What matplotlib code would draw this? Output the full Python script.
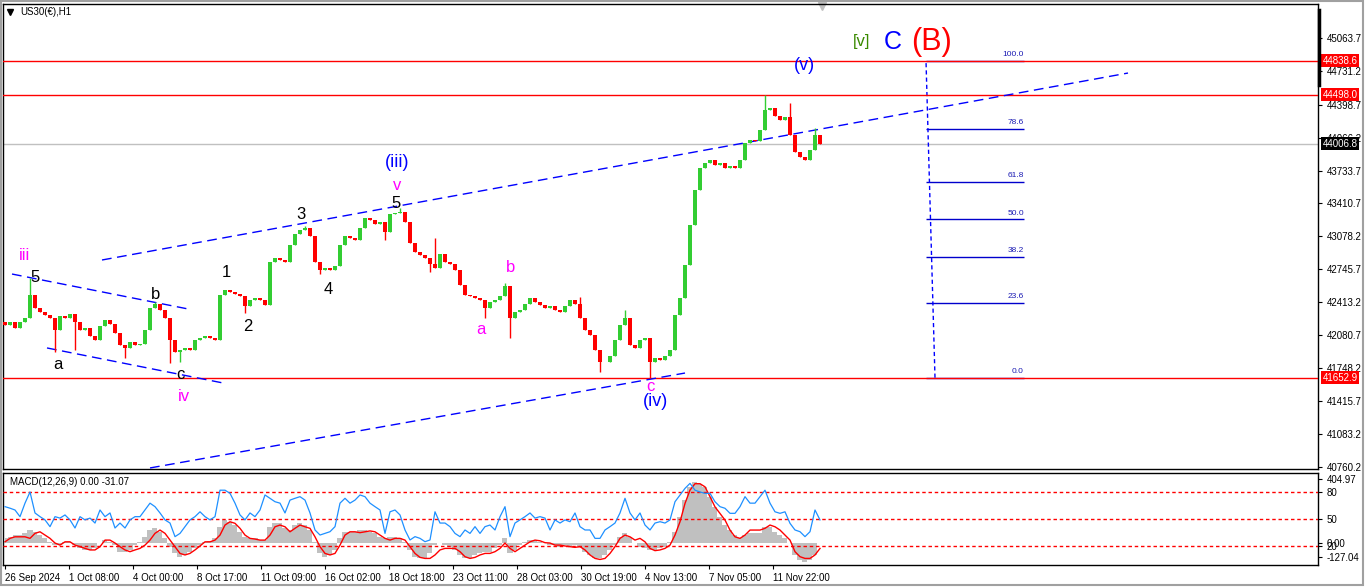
import numpy as np
import matplotlib.pyplot as plt
from matplotlib import transforms
from matplotlib.lines import Line2D
from matplotlib.patches import Rectangle

plt.rcParams['font.family'] = ['Liberation Sans', 'DejaVu Sans']

# hourly closes, one value every 5 bars
closes = [42183, 42213, 42153, 42213, 42253, 42484, 42354, 42313, 42283, 42253,
          42132, 42273, 42253, 42293, 42213, 42132, 42153, 42072, 42032, 42173,
          42233, 42193, 42102, 41982, 41952, 42012, 41982, 41992, 42132, 42354,
          42394, 42334, 42253, 42032, 41911, 41932, 41952, 41932, 42032, 42052,
          42072, 42052, 42032, 42484, 42535, 42514, 42494, 42474, 42374, 42434,
          42454, 42434, 42384, 42816, 42856, 42836, 42816, 42987, 43097, 43137,
          43158, 43077, 42816, 42736, 42756, 42736, 42776, 42987, 43077, 43057,
          43037, 43158, 43258, 43238, 43198, 43218, 43117, 43298, 43308, 43318,
          43218, 43007, 42916, 42886, 42856, 42796, 42756, 42900, 42816, 42796,
          42736, 42585, 42484, 42474, 42454, 42434, 42354, 42414, 42434, 42474,
          42575, 42253, 42313, 42334, 42394, 42454, 42414, 42384, 42354, 42374,
          42334, 42313, 42374, 42434, 42394, 42253, 42132, 42082, 41932, 41811,
          41811, 41871, 42032, 42183, 42253, 41982, 41952, 42032, 42052, 41811,
          41851, 41831, 41871, 41932, 42283, 42454, 42786, 43188, 43540, 43761,
          43811, 43841, 43791, 43811, 43761, 43781, 43761, 43841, 44012, 44042,
          44032, 44142, 44343, 44364, 44283, 44243, 44273, 44092, 43921, 43871,
          43841, 43942, 44092, 44006.8]

# wick extremes: bar index and price
wick_bar = [25, 50, 72, 118, 150, 167, 173, 240, 300, 313, 380, 395, 427, 432,
            478, 499, 505, 573, 593, 619, 643, 761, 783, 812]
wick_price = [42655, 41911, 41932, 41851, 42414, 41801, 41811, 42303, 43178, 42695,
              43037, 43359, 42716, 43057, 42253, 42605, 42052, 42464, 41710, 42334,
              41652.9, 44498.0, 44414, 44163]

# oscillator (0-100), MACD histogram and signal, same 5-bar step
osc = [63.7, 62, 60, 52.6, 67.6, 80, 56.7, 52.6, 49, 41.5,
       52.6, 51, 54.5, 49, 40, 52.6, 49, 51, 45.5, 60,
       52.6, 56.7, 40, 45.5, 40, 49, 52.6, 52.6, 60, 67.6,
       63.7, 56.7, 49, 45.5, 30.4, 34, 41.5, 49, 52.6, 58,
       52.6, 49, 52.6, 82, 82, 78.5, 67.6, 54.5, 49, 56.7,
       52.6, 60, 76.7, 73, 69.2, 67.6, 56.7, 71, 73, 74.8,
       71, 56.7, 37.8, 32.2, 34, 35.9, 41.5, 67.6, 73, 67.6,
       71, 76.7, 74.8, 67.6, 63.7, 60, 34, 58, 60, 54.5,
       37.8, 26.7, 30.4, 28.5, 24.8, 26.7, 58, 45.5, 45.5, 41.5,
       34, 30.4, 37.8, 34, 41.5, 34, 41.5, 43.3, 37.8, 52.6,
       63.7, 30.4, 45.5, 49, 52.6, 56.7, 51, 52.6, 51, 37.8,
       49, 45.5, 49, 47, 56.7, 41.5, 37.8, 37.8, 28.5, 28.5,
       37.8, 41.5, 45.5, 56.7, 73, 56.7, 49, 56.7, 43.3, 37.8,
       45.5, 47, 45.5, 49, 69.2, 76.7, 84, 89.6, 82, 80,
       78.5, 78.5, 69.2, 63.7, 61.9, 56.3, 56.3, 63.7, 74.8, 67.6,
       67.6, 74.8, 82, 67.6, 58, 56.3, 58, 45.2, 37.8, 35.9,
       30.4, 35.9, 60, 49]

macd_hist = [27, 36, 46, 46, 56, 75, 65, 46, 27, 7,
             -12, -12, 7, 7, -12, -31, -40, -40, -31, 0,
             17, 7, -12, -50, -50, -40, -12, 7, 36, 75,
             85, 65, 27, -21, -60, -79, -69, -50, -31, -12,
             7, 13, 27, 94, 133, 123, 104, 65, 36, 27,
             27, 17, 17, 94, 114, 114, 85, 75, 104, 114,
             104, 75, 7, -60, -79, -69, -40, 27, 65, 65,
             65, 75, 75, 65, 56, 36, 27, 36, 36, 27,
             7, -40, -79, -89, -89, -60, -12, 0, -12, -21,
             -40, -69, -89, -89, -69, -60, -50, -50, -31, -12,
             27, -60, -40, -12, 7, 17, 17, 7, 0, -12,
             -12, -21, -12, -21, -12, -21, -50, -69, -89, -89,
             -69, -40, -12, 36, 56, 36, 0, -21, -31, -40,
             -40, -31, -21, 7, 65, 151, 248, 325, 353, 343,
             325, 268, 209, 151, 104, 75, 46, 27, 46, 56,
             56, 56, 94, 94, 65, 46, 27, -2, -69, -98,
             -108, -98, -69, 0]

macd_sig = [7, 27, 36, 36, 36, 27, 56, 65, 46, 27,
            0, -12, 7, 7, -12, -21, -31, -40, -40, -21,
            17, 17, 0, -21, -40, -50, -40, -31, -12, 17,
            56, 75, 56, 17, -21, -60, -69, -60, -40, -17,
            7, 7, 17, 46, 104, 123, 114, 85, 46, 27,
            23, 17, 17, 46, 94, 104, 94, 65, 85, 104,
            94, 85, 36, -21, -60, -69, -60, -12, 46, 65,
            65, 60, 65, 70, 65, 46, 27, 17, 27, 27,
            17, -21, -60, -83, -89, -89, -69, -40, -31, -31,
            -31, -50, -79, -89, -83, -69, -60, -60, -50, -31,
            0, -31, -50, -31, -12, 7, 17, 13, 2, 0,
            -12, -12, -17, -21, -25, -21, -40, -69, -89, -95,
            -89, -60, -21, 27, 46, 36, 17, 27, 7, -31,
            -44, -40, -31, -12, 46, 123, 229, 306, 343, 343,
            325, 268, 209, 171, 133, 75, 36, 27, 46, 75,
            75, 75, 85, 104, 94, 75, 46, 17, -50, -79,
            -89, -89, -69, -31.07]

x_labels = ['26 Sep 2024', '1 Oct 08:00', '4 Oct 00:00', '8 Oct 17:00', '11 Oct 09:00',
            '16 Oct 02:00', '18 Oct 18:00', '23 Oct 11:00', '28 Oct 03:00', '30 Oct 19:00',
            '4 Nov 13:00', '7 Nov 05:00', '11 Nov 22:00']
price_ticks = [45063.7, 44731.2, 44398.7, 44066.2, 43733.7, 43410.7, 43078.2,
               42745.7, 42413.2, 42080.7, 41748.2, 41415.7, 41083.2, 40760.2]
red_levels = [44838.6, 44498.0, 41652.9]
bid = 44006.8
fib_low, fib_high = 41652.9, 44838.6
fib_ratios = [0.0, 23.6, 38.2, 50.0, 61.8, 78.6, 100.0]

# trend lines (bar, price) pairs
channel_lines = [((97, 42836), (1123, 44715)),
                 ((145, 40746), (680, 41700)),
                 ((7, 42695), (183, 42344)),
                 ((42, 41952), (218, 41600))]

# wave labels: text, bar, price, colour, size
wave_labels = [('iii', 20, 42886, '#ff00ff', 12), ('5', 30, 42665, 'k', 12),
               ('a', 53, 41781, 'k', 12), ('b', 151, 42494, 'k', 12),
               ('c', 175, 41690, 'k', 12), ('iv', 179, 41469, '#ff00ff', 12),
               ('1', 221, 42715, 'k', 12), ('2', 243, 42163, 'k', 12),
               ('3', 296, 43298, 'k', 12), ('4', 323, 42535, 'k', 12),
               ('(iii)', 392, 43811, '#0000ff', 13), ('v', 392, 43580, '#ff00ff', 12),
               ('5', 391, 43399, 'k', 12), ('b', 506, 42756, '#ff00ff', 12),
               ('a', 476, 42133, '#ff00ff', 12), ('c', 645, 41560, '#ff00ff', 12),
               ('(iv)', 651, 41409, '#0000ff', 13), ('(v)', 799, 44786, '#0000ff', 13),
               ('[v]', 857, 45027, '#3a8a00', 12), ('C', 888, 45027, '#0000ff', 18),
               ('(B)', 927, 45027, '#ff0000', 22)]

W, H = 1366, 588
fig = plt.figure(figsize=(W / 100, H / 100), dpi=100)
fig.patch.set_facecolor('white')

ax = fig.add_axes([3 / W, 1 - 469 / H, 1315 / W, 465 / H])
ax2 = fig.add_axes([3 / W, 1 - 565 / H, 1315 / W, 92 / H])

pos = np.arange(len(closes)) * 5
c = np.array(closes, dtype=float)
o = np.r_[42213, c[:-1]]
hi = np.maximum(o, c)
lo = np.minimum(o, c)
for b, p in zip(wick_bar, wick_price):
    k = int(round(b / 5))
    hi[k] = max(hi[k], p)
    lo[k] = min(lo[k], p)
cols = np.where(c >= o, '#32cd32', '#ff0000')

# fib retracement
fib_prices = [fib_low + r / 100 * (fib_high - fib_low) for r in fib_ratios]
ax.hlines(fib_prices, 921, 1019, color='#0000cc', lw=1, zorder=2)
for r, p in zip(fib_ratios, fib_prices):
    ax.text(1019, p + 25, f'{r:.1f}', ha='right', va='bottom', fontsize=6,
            color='#1c1cb4')
ax.plot([930, 921], [fib_low, fib_high], color='#0000ff', lw=1,
        ls=(0, (3, 2.2)), zorder=2)

for lvl in red_levels:
    ax.axhline(lvl, color='#ff0000', lw=1, zorder=3)
ax.axhline(bid, color='#c0c0c0', lw=1, zorder=1)

for (x0, y0), (x1, y1) in channel_lines:
    ax.plot([x0, x1], [y0, y1], color='#0000ff', lw=1, ls=(0, (7, 4)), zorder=4)

ax.vlines(pos, lo, hi, colors=cols, lw=1, zorder=5)
ax.bar(pos, c - o, bottom=o, width=4.2, color=cols, linewidth=0, zorder=5)

for t, bx, py, col, fs in wave_labels:
    ax.text(bx, py, t, ha='center', va='center', color=col, fontsize=fs, zorder=6)

ax.plot(817, 45385, marker='v', color='#c0c0c0', ms=6, clip_on=False)

ax.set_xlim(-2, 1313)
ax.set_ylim(40735.5, 45408.8)
ax.set_xticks([])
ax.yaxis.tick_right()
ax.set_yticks(price_ticks)
ax.set_yticklabels([f'{v:.1f}' for v in price_ticks])
ax.tick_params(axis='y', direction='out', length=3, pad=3, labelsize=7)
for s in ax.spines.values():
    s.set_color('k')
    s.set_linewidth(1)

tr = transforms.blended_transform_factory(ax.transAxes, ax.transData)
for lvl in red_levels:
    ax.text(1.0035, lvl, f'{lvl:.1f}', transform=tr, ha='left', va='center',
            fontsize=7, color='white', zorder=10,
            bbox=dict(boxstyle='square,pad=0.15', fc='#ff0000', ec='none'))
ax.text(1.0035, bid, f'{bid:.1f}', transform=tr, ha='left', va='center',
        fontsize=7, color='white', zorder=10,
        bbox=dict(boxstyle='square,pad=0.15', fc='black', ec='none'))

# MACD panel
ax2.fill_between(pos, 0, macd_hist, color='#c0c0c0', linewidth=0, step='mid', zorder=1)
ax2.plot(pos, macd_sig, color='#ff0000', lw=1, zorder=2)
ax2.set_xlim(-2, 1313)
ax2.set_ylim(-127.04, 404.97)
ax3 = ax2.twinx()
ax3.set_ylim(-1.1, 101.1)
for lv in [20, 50, 80]:
    ax3.axhline(lv, color='#ff0000', lw=1, ls=(0, (2.5, 2)))
ax3.plot(pos, osc, color='#1e90ff', lw=0.9)
ax3.set_yticks([20, 50, 80])
ax3.set_yticklabels(['20', '50', '80'])
ax3.tick_params(axis='y', direction='out', length=3, pad=3, labelsize=7)
for s in ax3.spines.values():
    s.set_visible(False)

ax2.yaxis.tick_right()
ax2.set_yticks([370, 0, -81])
ax2.set_yticklabels(['404.97', '0.00', '-127.04'])
ax2.tick_params(axis='y', direction='out', length=3, pad=3, labelsize=7)
ax2.set_xticks(np.arange(len(x_labels)) * 64)
ax2.set_xticklabels(x_labels, ha='left')
ax2.tick_params(axis='x', direction='out', length=3, pad=3, labelsize=7)
for s in ax2.spines.values():
    s.set_color('k')
    s.set_linewidth(1)

fig.text(20 / W, 1 - 12 / H, 'US30(€),H1', va='center', fontsize=7)
fig.add_artist(Line2D([10 / W], [1 - 12 / H], marker='v', color='k', ms=4, lw=0))
fig.text(10 / W, 1 - 482 / H, 'MACD(12,26,9) 0.00 -31.07', va='center', fontsize=7)
fig.add_artist(Line2D([1318.5 / W] * 2, [1 - 10 / H, 1 - 85 / H], lw=2.5, color='k',
                      zorder=1))
fig.add_artist(Rectangle((0.5 / W, 1 - 585 / H), 1362 / W, 584.5 / H,
                         transform=fig.transFigure, fill=False, ec='#a0a0a0', lw=1.5))

fig.savefig('out.png', dpi=100)
